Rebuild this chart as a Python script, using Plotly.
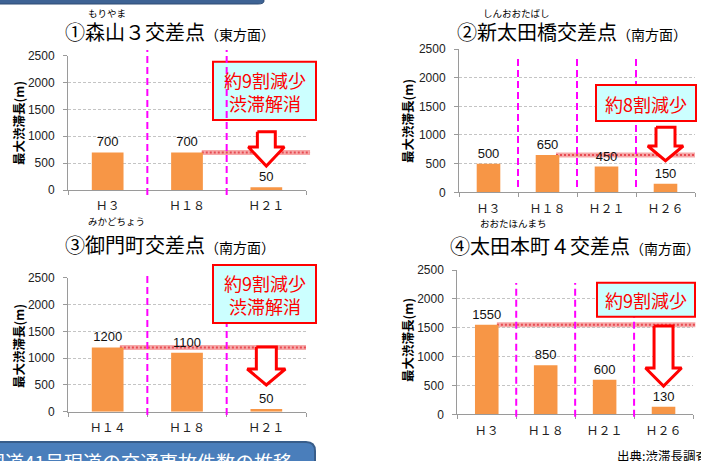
import plotly.graph_objects as go

W, H = 701, 461
YMAX = 2500

# ---------------- data ----------------
cats1 = ["Ｈ３", "Ｈ１８", "Ｈ２１"]
vals1 = [700, 700, 50]
cats2 = ["Ｈ３", "Ｈ１８", "Ｈ２１", "Ｈ２６"]
vals2 = [500, 650, 450, 150]
cats3 = ["Ｈ１４", "Ｈ１８", "Ｈ２１"]
vals3 = [1200, 1100, 50]
cats4 = ["Ｈ３", "Ｈ１８", "Ｈ２１", "Ｈ２６"]
vals4 = [1550, 850, 600, 130]

titles = ["①森山３交差点", "②新太田橋交差点", "③御門町交差点", "④太田本町４交差点"]
directions = ["（東方面）", "（南方面）", "（南方面）", "（南方面）"]
readings = ["もりやま", "しんおおたばし", "みかどちょう", "おおたほんまち"]
callouts = ["約9割減少<br>渋滞解消", "約8割減少", "約9割減少<br>渋滞解消", "約9割減少"]
ytitle = "最大渋滞長(m)"
yticks = [0, 500, 1000, 1500, 2000, 2500]

# ---------------- layout constants (pixels / axis units) ----------------
panels = [
    dict(cats=cats1, vals=vals1, px=(68, 306), py=(55.7, 190),
         title=(170, 31), reading=(107, 13), ytitle=(19, 123),
         box=(213, 316, 61.7, 120), box_on_top=False,
         mag=(-0.037, 1.042), hatch=(0.562, 1.017),
         arrow=dict(top=1085, base=800, tip=447, sw=0.113, hw=0.227)),
    dict(cats=cats2, vals=vals2, px=(459, 695), py=(49, 192.3),
         title=(572, 31), reading=(516, 13), ytitle=(407, 121),
         box=(596, 696, 85, 121), box_on_top=True,
         mag=(0.037, 0.937), hatch=(0.411, 1.0),
         arrow=dict(top=1134, base=808, tip=551, sw=0.161, hw=0.30)),
    dict(cats=cats3, vals=vals3, px=(68, 306), py=(277.7, 411.7),
         title=(170, 244), reading=(116, 221), ytitle=(18, 346),
         box=(213, 316, 265, 323), box_on_top=True,
         mag=(-0.025, 1.028), hatch=(0.218, 1.0),
         arrow=dict(top=1207, base=797, tip=498, sw=0.126, hw=0.24)),
    dict(cats=cats4, vals=vals4, px=(457.3, 693), py=(270, 414.3),
         title=(575, 245), reading=(513, 223), ytitle=(407, 340),
         box=(597, 695, 282.7, 316.7), box_on_top=True,
         mag=(-0.017, 0.91), hatch=(0.168, 1.01),
         arrow=dict(top=1530, base=802, tip=490, sw=0.161, hw=0.306)),
]

JP = "Noto Sans CJK JP"
NUM = "Liberation Sans, Noto Sans CJK JP"
ORANGE = "#F79646"
RED = "#FF0000"


def fx(p):
    return p / W


def fy(p):
    return 1 - p / H


fig = go.Figure()
shapes = []
annotations = []
layout_axes = {}

for i, p in enumerate(panels, start=1):
    sfx = "" if i == 1 else str(i)
    xa, ya = "x" + sfx, "y" + sfx
    n = len(p["cats"])

    fig.add_trace(go.Bar(
        x=list(range(n)), y=p["vals"], xaxis=xa, yaxis=ya,
        width=0.4, marker=dict(color=ORANGE, line=dict(width=0)),
        text=[str(v) for v in p["vals"]], textposition="outside",
        textfont=dict(size=13, color="#111", family=NUM),
        constraintext="none", cliponaxis=False,
        hoverinfo="skip", showlegend=False))

    # down arrow over the last category
    a = p["arrow"]
    cx = n - 1
    ax_x = [cx - a["sw"], cx + a["sw"], cx + a["sw"], cx + a["hw"], cx,
            cx - a["hw"], cx - a["sw"], cx - a["sw"]]
    ax_y = [a["top"], a["top"], a["base"], a["base"], a["tip"],
            a["base"], a["base"], a["top"]]
    fig.add_trace(go.Scatter(
        x=ax_x, y=ax_y, xaxis=xa, yaxis=ya, mode="lines", fill="toself",
        fillcolor="white", line=dict(color=RED, width=3),
        hoverinfo="skip", showlegend=False))

    x0, x1 = p["px"]
    y0, y1 = p["py"]
    layout_axes["xaxis" + sfx] = dict(
        domain=[fx(x0), fx(x1)], anchor=ya, range=[-0.5, n - 0.5],
        tickmode="array", tickvals=list(range(n)), ticktext=p["cats"],
        ticks="", showgrid=False, zeroline=False,
        showline=True, linecolor="#9a9a9a", linewidth=1,
        tickfont=dict(size=12, color="#222", family=JP),
        ticklabelstandoff=5, automargin=False, fixedrange=True,
        minor=dict(tickmode="array",
                   tickvals=[k - 0.5 for k in range(n + 1)],
                   ticks="outside", ticklen=4, tickcolor="#9a9a9a",
                   showgrid=False))
    layout_axes["yaxis" + sfx] = dict(
        domain=[fy(y1), fy(y0)], anchor=xa, range=[0, YMAX],
        tickmode="array", tickvals=yticks,
        ticks="outside", ticklen=4, tickcolor="#9a9a9a",
        showgrid=True, gridcolor="#c4c4c4", griddash="3px,2px", gridwidth=1,
        zeroline=False, showline=True, linecolor="#9a9a9a", linewidth=1,
        tickfont=dict(size=12, color="#222", family=NUM),
        ticklabelstandoff=6, automargin=False, fixedrange=True)

    xd, yd = xa + " domain", ya + " domain"

    # reference level (hatched band)
    ref = max(p["vals"])
    hx0, hx1 = p["hatch"]
    shapes.append(dict(type="line", xref=xd, yref=yd, x0=hx0, x1=hx1,
                       y0=ref / YMAX, y1=ref / YMAX, layer="below",
                       line=dict(color="#F6A9A9", width=5)))
    shapes.append(dict(type="line", xref=xd, yref=yd, x0=hx0, x1=hx1,
                       y0=ref / YMAX, y1=ref / YMAX, layer="below",
                       line=dict(color="#E84A52", width=2, dash="2px,2px")))

    # call-out box
    bx0, bx1, by0, by1 = p["box"]
    box = dict(type="rect", xref=xd, yref=yd,
               x0=(bx0 - x0) / (x1 - x0), x1=(bx1 - x0) / (x1 - x0),
               y0=(y1 - by1) / (y1 - y0), y1=(y1 - by0) / (y1 - y0),
               fillcolor="#CCFFFF", line=dict(color=RED, width=2), layer="above")
    mags = []
    for k in range(1, n):
        mags.append(dict(type="line", xref=xd, yref=yd, x0=k / n, x1=k / n,
                         y0=p["mag"][0], y1=p["mag"][1], layer="above",
                         line=dict(color="#FF00FF", width=2, dash="7px,4px")))
    if p["box_on_top"]:
        shapes += mags + [box]
    else:
        shapes += [box] + mags
    annotations.append(dict(
        xref="paper", yref="paper", x=fx((bx0 + bx1) / 2),
        y=fy((by0 + by1) / 2 + 0.5), xanchor="center", yanchor="middle",
        text=callouts[i - 1], showarrow=False, align="center",
        font=dict(family=JP, size=18, color=RED)))

    # titles
    tx, ty = p["title"]
    annotations.append(dict(
        xref="paper", yref="paper", x=fx(tx), y=fy(ty),
        xanchor="center", yanchor="middle", showarrow=False,
        text=titles[i - 1] + "<span style='font-size:14px'>" + directions[i - 1] + "</span>",
        font=dict(family=JP, size=20, color="#000")))
    rx, ry = p["reading"]
    annotations.append(dict(
        xref="paper", yref="paper", x=fx(rx), y=fy(ry),
        xanchor="center", yanchor="middle", showarrow=False,
        text=readings[i - 1], font=dict(family=JP, size=9.5, color="#000")))
    yx, yy = p["ytitle"]
    annotations.append(dict(
        xref="paper", yref="paper", x=fx(yx), y=fy(yy),
        xanchor="center", yanchor="middle", showarrow=False, textangle=-90,
        text="<b>" + ytitle + "</b>", font=dict(family=JP, size=12.5, color="#000")))

# surrounding page elements
shapes.append(dict(
    type="path", xref="paper", yref="paper",
    path=f"M {fx(-5)},{fy(-5)} L {fx(258)},{fy(-5)} Q {fx(264)},{fy(-5)} {fx(264)},{fy(1)} "
         f"Q {fx(264)},{fy(4)} {fx(258)},{fy(4)} L {fx(-5)},{fy(4)} Z",
    fillcolor="#3E6394", line=dict(color="#2E4C75", width=1), layer="above"))
shapes.append(dict(
    type="path", xref="paper", yref="paper",
    path=f"M {fx(-5)},{fy(475)} L {fx(-5)},{fy(442)} L {fx(306)},{fy(442)} "
         f"Q {fx(315)},{fy(442)} {fx(315)},{fy(451)} L {fx(315)},{fy(475)} Z",
    fillcolor="#4A7EBB", line=dict(color="#385D8A", width=2), layer="above"))
annotations.append(dict(
    xref="paper", yref="paper", x=fx(-16), y=fy(461), xanchor="left", yanchor="middle",
    showarrow=False, text="国道41号現道の交通事故件数の推移",
    font=dict(family=JP, size=19, color="white")))
annotations.append(dict(
    xref="paper", yref="paper", x=fx(615), y=fy(455), xanchor="left", yanchor="middle",
    showarrow=False, text="出典:渋滞長調査",
    font=dict(family=JP, size=12.5, color="#000")))

fig.update_layout(
    template="none", width=W, height=H, autosize=False,
    margin=dict(l=0, r=0, t=0, b=0, pad=0),
    paper_bgcolor="white", plot_bgcolor="white",
    font=dict(family=JP, color="#000"),
    shapes=shapes, annotations=annotations, showlegend=False,
    barmode="overlay",
    **layout_axes)

fig.write_html("out.html", config={"displayModeBar": False})
